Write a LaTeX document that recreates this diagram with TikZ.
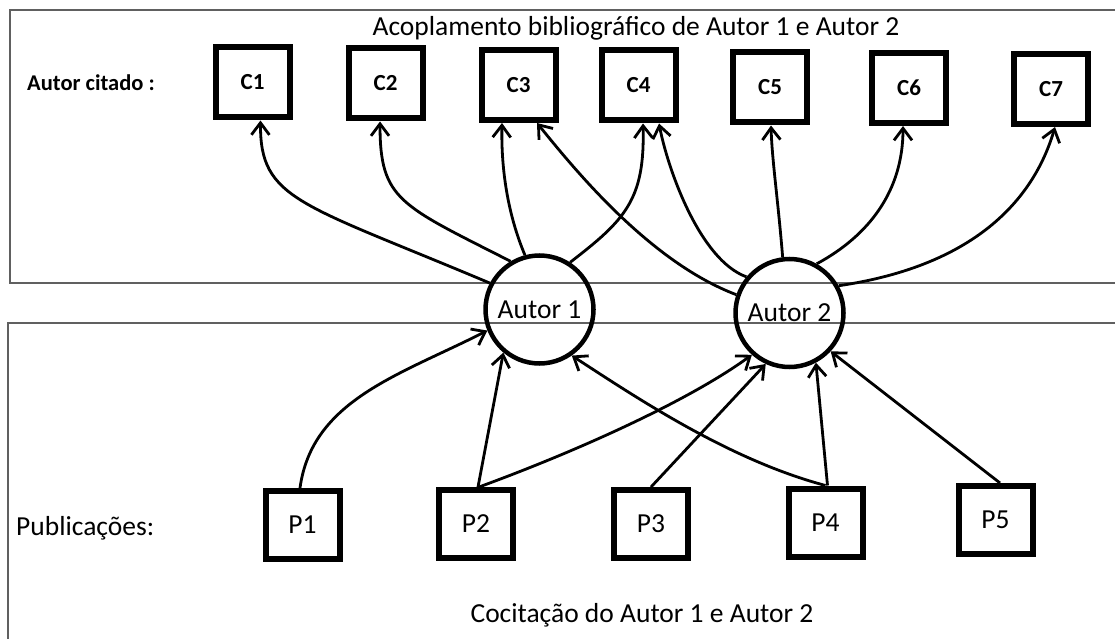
\documentclass[tikz,border=0pt]{standalone}
\usepackage{fontspec}
\setmainfont{Carlito}
\usetikzlibrary{arrows.meta}
\definecolor{framegray}{RGB}{96,96,96}

\begin{document}
\begin{tikzpicture}[x=1pt,y=-1pt]

%
% Styles
%
\tikzstyle{cited} = [rectangle,draw,line width=6pt,minimum width=74pt,minimum height=70pt,inner sep=0pt,font=\fontsize{23}{26}\selectfont\bfseries]
\tikzstyle{paper} = [rectangle,draw,line width=6pt,minimum width=74pt,minimum height=68pt,inner sep=0pt,font=\fontsize{27.5}{30}\selectfont]
\tikzstyle{author} = [circle,draw,line width=4.5pt,minimum size=108pt,inner sep=0pt,font=\fontsize{27.5}{30}\selectfont]
\tikzstyle{heading} = [inner sep=0pt,font=\fontsize{27.5}{30}\selectfont]
\tikzstyle{citearrow} = [line width=2.8pt,-{Straight Barb[length=12pt,width=18pt]}]

\useasboundingbox (0,0) rectangle (1115,639);

% frames
\draw[framegray,line width=1.5pt] (1115,10) -- (10,10) -- (10,283) -- (1115,283);
\draw[framegray,line width=1.5pt] (1115,323) -- (8,323) -- (8,639);

\node[heading,anchor=base] (top) at (636,35.5) {Acoplamento bibliográfico de Autor 1 e Autor 2};
\node[heading,anchor=base] (bottom) at (642,622) {Cocitação do Autor 1 e Autor 2};
\node[heading,anchor=base west,font=\fontsize{22.5}{25}\selectfont\bfseries] (citado) at (27,91) {Autor citado :};
\node[heading,anchor=base west] (pubs) at (16,535) {Publicações:};

\node[cited] (C1) at (252.5,82.5) {C1};
\node[cited] (C2) at (385.5,83.5) {C2};
\node[cited] (C3) at (518.5,85)   {C3};
\node[cited] (C4) at (638.5,85.5) {C4};
\node[cited] (C5) at (770,87.5)   {C5};
\node[cited] (C6) at (909,88)     {C6};
\node[cited] (C7) at (1051,89)    {C7};

\node[author] (A1) at (539.5,309.5) {Autor 1};
\node[author] (A2) at (789.5,313)   {Autor 2};

\node[paper] (P1) at (302.5,525) {P1};
\node[paper] (P2) at (476,524)   {P2};
\node[paper] (P3) at (651,524)   {P3};
\node[paper] (P4) at (825.5,522.5) {P4};
\node[paper] (P5) at (995.5,520) {P5};

% Autor 1 cites
\draw[citearrow] (A1.152) .. controls (300,203) and (260,200) .. ([xshift=8pt]C1.south);
\draw[citearrow] (A1.121) .. controls (400,205) and (380,200) .. ([xshift=-5.5pt]C2.south);
\draw[citearrow] (A1.105) .. controls (508,215) and (501,170) .. ([xshift=-16.5pt]C3.south);
\draw[citearrow] (A1.57)  .. controls (625,220) and (645,200) .. ([xshift=4.5pt]C4.south);

% Autor 2 cites
\draw[citearrow] (A2.161) .. controls (650,262) and (575,170) .. ([xshift=18.5pt]C3.south);
\draw[citearrow] (A2.140) .. controls (700,260) and (668,170) .. ([xshift=20.5pt]C4.south);
\draw[citearrow] (A2.97)  .. controls (778,200) and (772,160) .. ([xshift=1pt]C5.south);
\draw[citearrow] (A2.61)  .. controls (870,235) and (903,190) .. ([xshift=-6pt]C6.south);
\draw[citearrow] (A2.29)  .. controls (980,265) and (1035,195) .. ([xshift=4pt]C7.south);

% publications
\draw[citearrow] ([xshift=-2.5pt]P1.north) .. controls (312,400) and (400,375) .. (A1.202);
\draw[citearrow] ([xshift=2pt]P2.north) -- (A1.230);
\draw[citearrow] ([xshift=3pt]P2.north) .. controls (580,450) and (690,400) .. (A2.228);
\draw[citearrow] (P3.north) -- (A2.245);
\draw[citearrow] (P4.north) .. controls (730,460) and (640,400) .. (A1.305);
\draw[citearrow] ([xshift=2pt]P4.north) -- (A2.298);
\draw[citearrow] ([xshift=4.5pt]P5.north) -- (A2.317);

\end{tikzpicture}
\end{document}
